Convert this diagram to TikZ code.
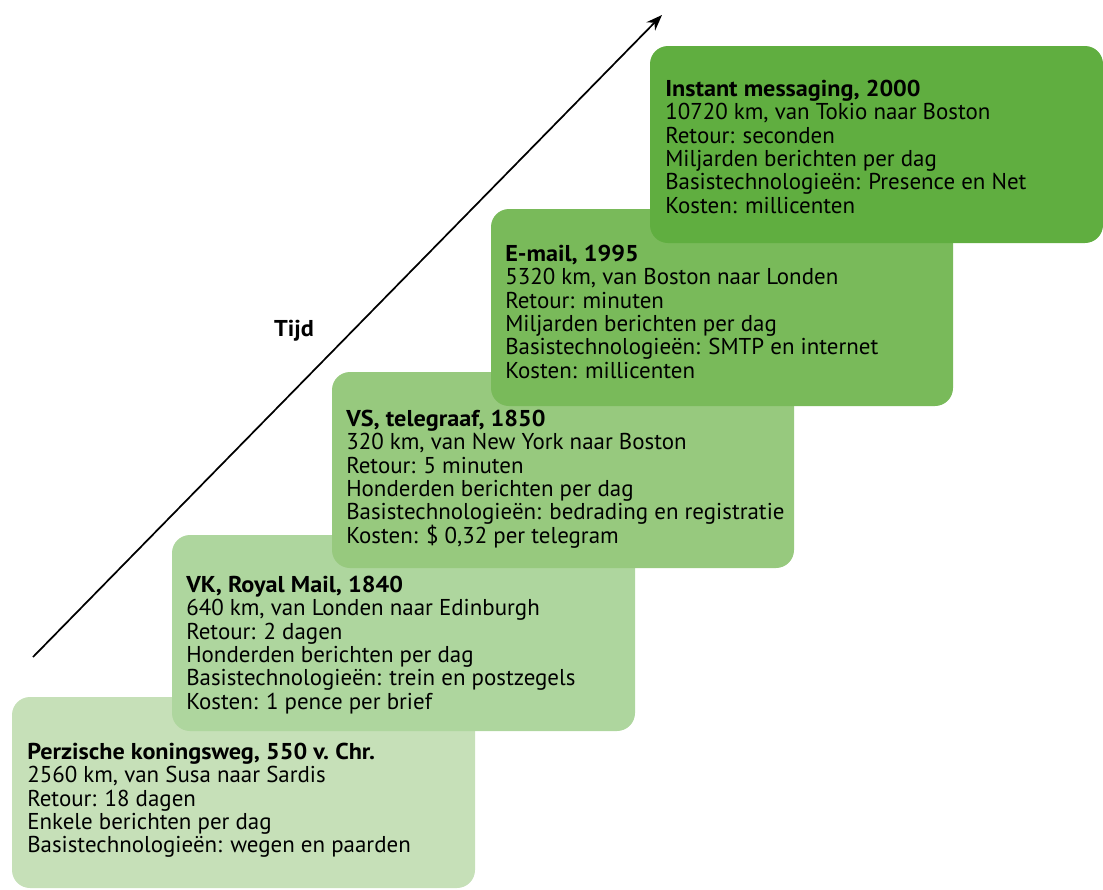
\documentclass[tikz,border=0pt]{standalone}
\usepackage{fontspec}
\setmainfont{PT Sans}[BoldFeatures={FakeStretch=1.055}]
\usetikzlibrary{arrows.meta}

\definecolor{eraA}{RGB}{198,224,184}
\definecolor{eraB}{RGB}{174,214,158}
\definecolor{eraC}{RGB}{151,201,126}
\definecolor{eraD}{RGB}{121,186,90}
\definecolor{eraE}{RGB}{96,174,64}

\tikzset{
  erabox/.style={rounded corners=13.5pt},
  erainfo/.style={anchor=north west, inner sep=0pt, align=left,
    font=\fontsize{17.2}{17.5}\selectfont},
}

\begin{document}
\begin{tikzpicture}[x=0.75pt, y=-0.75pt]
    \useasboundingbox (0,0) rectangle (1103,889);
    % the five stages, oldest at the bottom
    \fill[erabox, eraA] (12,697) rectangle (475,888);
    \node[erainfo] (perzie) at (27,743) {\textbf{Perzische koningsweg, 550 v.~Chr.}\\
      2560 km, van Susa naar Sardis\\ Retour: 18 dagen\\
      Enkele berichten per dag\\ Basistechnologieën: wegen en paarden};
    \fill[erabox, eraB] (172,535) rectangle (635,731);
    \node[erainfo] (royalmail) at (186,576) {\textbf{VK, Royal Mail, 1840}\\
      640 km, van Londen naar Edinburgh\\ Retour: 2 dagen\\
      Honderden berichten per dag\\ Basistechnologieën: trein en postzegels\\
      Kosten: 1 pence per brief};
    \fill[erabox, eraC] (332,372) rectangle (794,568);
    \node[erainfo] (telegraaf) at (346,410) {\textbf{VS, telegraaf, 1850}\\
      320 km, van New York naar Boston\\ Retour: 5 minuten\\
      Honderden berichten per dag\\ Basistechnologieën: bedrading en registratie\\
      Kosten: \$ 0,32 per telegram};
    \fill[erabox, eraD] (491,209) rectangle (953,406);
    \node[erainfo] (email) at (505,245) {\textbf{E-mail, 1995}\\
      5320 km, van Boston naar Londen\\ Retour: minuten\\
      Miljarden berichten per dag\\ Basistechnologieën: SMTP en internet\\
      Kosten: millicenten};
    \fill[erabox, eraE] (650,46) rectangle (1103,243);
    \node[erainfo] (im) at (665,80) {\textbf{Instant messaging, 2000}\\
      10720 km, van Tokio naar Boston\\ Retour: seconden\\
      Miljarden berichten per dag\\ Basistechnologieën: Presence en Net\\
      Kosten: millicenten};
    % time axis
    \coordinate (tstart) at (33,657);
    \coordinate (tend) at (662,15);
    \draw[line width=1.3pt, -{Stealth[length=12pt, width=9pt]}] (tstart) -- (tend);
    \node[font=\fontsize{17.2}{17.5}\selectfont\bfseries] (tijd) at (294,331) {Tijd};
\end{tikzpicture}
\end{document}
